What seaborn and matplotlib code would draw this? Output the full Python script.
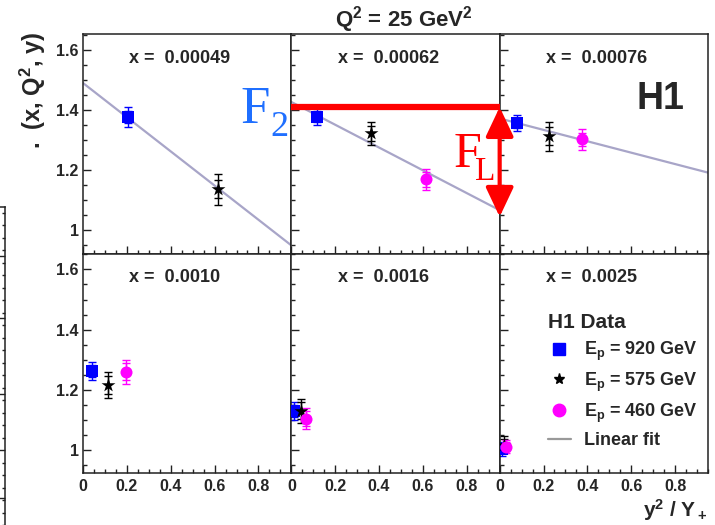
import numpy as np
import matplotlib
matplotlib.use("Agg")
import matplotlib.pyplot as plt
import seaborn as sns
from matplotlib.lines import Line2D
from matplotlib.patches import FancyArrowPatch, ArrowStyle
from matplotlib.ticker import MultipleLocator, FixedLocator

# ---------------------------------------------------------------- data
x_bins = ["0.00049", "0.00062", "0.00076", "0.0010", "0.0016", "0.0025"]

# E_p = 920 GeV
y2_920 = [0.205, 0.118, 0.077, 0.040, 0.014, 0.010]
sr_920 = [1.377, 1.377, 1.357, 1.263, 1.130, 1.003]
stat_920 = [0.020, 0.018, 0.016, 0.020, 0.020, 0.015]
tot_920 = [0.033, 0.028, 0.025, 0.030, 0.030, 0.022]

# E_p = 575 GeV
y2_575 = [0.614, 0.364, 0.223, 0.115, 0.045, 0.020]
sr_575 = [1.137, 1.323, 1.313, 1.217, 1.130, 1.017]
stat_575 = [0.030, 0.025, 0.030, 0.030, 0.028, 0.020]
tot_575 = [0.052, 0.038, 0.048, 0.043, 0.040, 0.028]

# E_p = 460 GeV (no measurement in the lowest x bin)
y2_460 = [np.nan, 0.614, 0.377, 0.195, 0.068, 0.030]
sr_460 = [np.nan, 1.170, 1.303, 1.260, 1.103, 1.010]
stat_460 = [np.nan, 0.025, 0.022, 0.028, 0.025, 0.015]
tot_460 = [np.nan, 0.035, 0.035, 0.040, 0.035, 0.022]

# linear fits, value at y2/Y+ = 0 and at the right edge of the range
fit_x = [0.0, 0.95]
fit_start = [1.490, 1.427, 1.372, np.nan, np.nan, np.nan]
fit_end = [0.950, 1.067, 1.192, np.nan, np.nan, np.nan]

# F2 level and bottom of the FL arrow in the x = 0.00062 bin
f2_level = 1.41
fl_bottom = 1.045

series = [
    ("E$_{\\mathrm{p}}$ = 920 GeV", y2_920, sr_920, stat_920, tot_920, "#0000ff", "s", 80),
    ("E$_{\\mathrm{p}}$ = 575 GeV", y2_575, sr_575, stat_575, tot_575, "#000000", "*", 110),
    ("E$_{\\mathrm{p}}$ = 460 GeV", y2_460, sr_460, stat_460, tot_460, "#ff00ff", "o", 75),
]
fit_color = "#a8a5c8"

# ---------------------------------------------------------------- style
sns.set_theme(style="ticks")
plt.rcParams["font.family"] = ["Liberation Sans", "DejaVu Sans"]
plt.rcParams["font.weight"] = "bold"
plt.rcParams["mathtext.fontset"] = "custom"
plt.rcParams["mathtext.rm"] = "Liberation Sans:bold"
plt.rcParams["mathtext.it"] = "Liberation Sans:bold"
plt.rcParams["mathtext.bf"] = "Liberation Sans:bold"
plt.rcParams["axes.edgecolor"] = "#222222"
plt.rcParams["axes.linewidth"] = 1.1

W, H = 715, 525
fig, axes = plt.subplots(2, 3, figsize=(W / 100, H / 100), dpi=100,
                         sharex=True, sharey=True)
fig.subplots_adjust(left=83 / W, right=708 / W, top=1 - 34 / H,
                    bottom=1 - 473 / H, wspace=0, hspace=0)

for i, ax in enumerate(axes.flat):
    # fit line
    if not np.isnan(fit_start[i]):
        sns.lineplot(x=fit_x, y=[fit_start[i], fit_end[i]], ax=ax,
                     color=fit_color, lw=1.6, zorder=1)
    for label, xs, ys, st, tt, col, mk, sz in series:
        if np.isnan(ys[i]):
            continue
        ax.errorbar([xs[i]], [ys[i]], yerr=[tt[i]], fmt="none", ecolor=col,
                    elinewidth=1.0, capsize=3.2, capthick=1.0, zorder=2)
        ax.errorbar([xs[i]], [ys[i]], yerr=[st[i]], fmt="none", ecolor=col,
                    elinewidth=1.0, capsize=3.2, capthick=1.0, zorder=2)
        sns.scatterplot(x=[xs[i]], y=[ys[i]], ax=ax, color=col, marker=mk,
                        s=sz, linewidth=0, zorder=3)
    ax.text(0.222, 0.89, f"x =  {x_bins[i]}", transform=ax.transAxes,
            ha="left", va="center", fontsize=13, fontweight="bold")

    ax.set_xlim(0, 0.95)
    ax.set_ylim(0.923, 1.653)
    ax.xaxis.set_major_locator(FixedLocator([0, 0.2, 0.4, 0.6, 0.8]))
    ax.xaxis.set_minor_locator(MultipleLocator(0.05))
    ax.yaxis.set_major_locator(FixedLocator([1.0, 1.2, 1.4, 1.6]))
    ax.yaxis.set_minor_locator(MultipleLocator(0.05))
    ax.tick_params(which="both", direction="in", top=False, right=False,
                   color="#222222", width=1.0)
    ax.tick_params(which="major", length=6)
    ax.tick_params(which="minor", length=3)
    ax.tick_params(axis="x", labelsize=11.5, pad=4)
    ax.tick_params(axis="y", labelsize=11.5, pad=3)
    ax.set_xlabel("")
    ax.set_ylabel("")
    for sp in ax.spines.values():
        sp.set_visible(True)

for ax in axes[1]:
    ax.set_xticklabels(["0", "0.2", "0.4", "0.6", "0.8"])
for ax in axes[:, 0]:
    ax.set_yticklabels(["1", "1.2", "1.4", "1.6"])

# ---------------------------------------------------------------- F2 / FL
ax2 = axes[0, 1]
f2_line = Line2D([0, 0.95], [f2_level, f2_level], color="#ff0000", lw=4.5,
                 solid_capstyle="butt", transform=ax2.transData, zorder=5)
fig.add_artist(f2_line)
arrow = FancyArrowPatch((0.95, f2_level), (0.95, fl_bottom),
                        arrowstyle=ArrowStyle("<|-|>", head_length=1.8,
                                              head_width=0.85),
                        mutation_scale=10, color="#ff0000", lw=3,
                        shrinkA=0, shrinkB=0, zorder=6,
                        transform=ax2.transData)
fig.add_artist(arrow)

# serif symbols with a deep subscript, set as letter + index
fig.text(270 / W, 1 - 123 / H, "F", color="#1f6fff", fontsize=38,
         family="Liberation Serif", fontweight="normal", ha="right",
         va="baseline")
fig.text(270 / W, 1 - 136 / H, "2", color="#1f6fff", fontsize=26,
         family="Liberation Serif", fontweight="normal", ha="left",
         va="baseline")
fig.text(454 / W, 1 - 167 / H, "F", color="#ff0000", fontsize=36,
         family="Liberation Serif", fontweight="normal", ha="left",
         va="baseline")
fig.text(475 / W, 1 - 180 / H, "L", color="#ff0000", fontsize=24,
         family="Liberation Serif", fontweight="normal", ha="left",
         va="baseline")

axes[0, 2].text(660 / W, 1 - 99 / H, "H1", transform=fig.transFigure,
                ha="center", va="center", fontsize=27, fontweight="bold")

# ---------------------------------------------------------------- legend
handles = [
    Line2D([], [], ls="none", marker="s", color="#0000ff", markersize=8.5),
    Line2D([], [], ls="none", marker="*", color="#000000", markersize=8),
    Line2D([], [], ls="none", marker="o", color="#ff00ff", markersize=9),
    Line2D([], [], color="#999999", lw=1.6),
]
labels = [s[0] for s in series] + ["Linear fit"]
leg = axes[1, 2].legend(handles, labels, title="H1 Data", loc="upper left",
                        bbox_to_anchor=(0.23, 0.728), frameon=False,
                        fontsize=13, title_fontproperties={"weight": "bold", "size": 15},
                        alignment="left", handlelength=1.3, handletextpad=0.7,
                        labelspacing=0.42, borderpad=0, borderaxespad=0)

# ---------------------------------------------------------------- labels
fig.text(404 / W, 1 - 20 / H, "Q$^2$ = 25 GeV$^2$", ha="center",
         va="center", fontsize=16, fontweight="bold")
fig.text(708 / W, 1 - 517 / H, "y$^2$ / Y$_+$", ha="right",
         va="baseline", fontsize=15, fontweight="bold")
fig.text(33 / W, 1 - 90 / H, ".  (x, Q$^2$, y)", rotation=90,
         ha="center", va="center", fontsize=17, fontweight="bold")

# edge of a neighbouring frame on the far left
side = fig.add_axes([-20 / W, 0, 25 / W, (H - 207) / H])
side.set_xlim(0, 1)
side.set_ylim(0, H - 207)
side.patch.set_alpha(0)
for name in ("left", "bottom"):
    side.spines[name].set_visible(False)
side.spines["right"].set_linewidth(1.1)
side.spines["top"].set_linewidth(1.1)
side.set_xticks([])
side.yaxis.tick_right()
side.yaxis.set_major_locator(FixedLocator([H - 256, H - 318, H - 394, H - 450, H - 498]))
side.yaxis.set_minor_locator(MultipleLocator(12.5))
side.tick_params(axis="y", which="both", direction="in", labelright=False,
                 color="#222222", width=1.0)
side.tick_params(axis="y", which="major", length=4)
side.tick_params(axis="y", which="minor", length=2)

fig.savefig("out.png", dpi=100)
